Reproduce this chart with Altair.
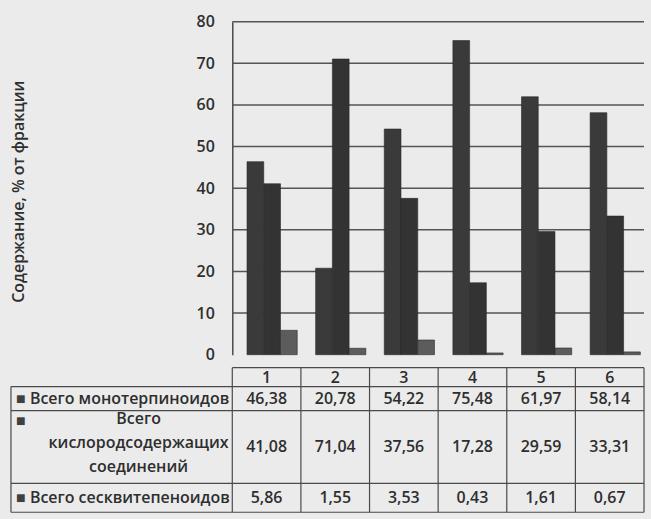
import altair as alt
import pandas as pd

cols = ["1", "2", "3", "4", "5", "6"]
series = ["Всего монотерпиноидов", "Всего кислородсодержащих соединений", "Всего сесквитепеноидов"]
series_lines = ["Всего монотерпиноидов", "Всего\nкислородсодержащих\nсоединений", "Всего сесквитепеноидов"]
mono = [46.38, 20.78, 54.22, 75.48, 61.97, 58.14]
oxy = [41.08, 71.04, 37.56, 17.28, 29.59, 33.31]
sesq = [5.86, 1.55, 3.53, 0.43, 1.61, 0.67]
y_ticks = [0, 10, 20, 30, 40, 50, 60, 70, 80]
y_title = "Содержание, % от фракции"

rows = []
for s, vals in zip(series, [mono, oxy, sesq]):
    for c, v in zip(cols, vals):
        rows.append({"series": s, "col": c, "value": v})
df = pd.DataFrame(rows)
hdr = pd.DataFrame({"col": cols})
one = pd.DataFrame({"k": [0]})
grid_df = pd.DataFrame({"value": y_ticks[1:]})

W, H = 413, 334
FONT = "Open Sans"
INK = "#2e2e2e"
LINE = "#4a4a4a"
FS = 16

xs = alt.Scale(domain=cols, paddingInner=0, paddingOuter=0)
xenc = alt.X("col:N", scale=xs, axis=None)
ys = alt.Scale(domain=[0, 80])
yaxis = alt.Axis(values=y_ticks, title=y_title, ticks=False, grid=False,
                 labelPadding=18, labelFont=FONT, labelFontSize=FS, labelFontWeight=600,
                 labelColor=INK, titleFont=FONT, titleFontSize=16, titleFontWeight=600,
                 titleColor=INK, titleAngle=270, titleX=-214, titleY=170,
                 titleAlign="center", titleBaseline="middle",
                 domainColor=LINE, domainWidth=1.5)

grid = alt.Chart(grid_df).mark_rule(color="#555555", strokeWidth=1.5).encode(
    y=alt.Y("value:Q", scale=ys, axis=yaxis), x=alt.value(0), x2=alt.value(W))

bars = alt.Chart(df).mark_bar(stroke="#2a2a2a", strokeWidth=0.6).encode(
    x=xenc,
    xOffset=alt.XOffset("series:N", sort=series,
                        scale=alt.Scale(paddingInner=0, paddingOuter=0.55, align=0.8)),
    y=alt.Y("value:Q", scale=ys, axis=yaxis),
    color=alt.Color("series:N", sort=series, legend=None,
                    scale=alt.Scale(domain=series, range=["#3a3a3a", "#333333", "#5c5c5c"])),
)

top = alt.layer(grid, bars).properties(width=W, height=H)

# data table below the chart
T0, R1, R2, R3, B = 0, 19, 43, 116, 145
LX = -222
table = []
table.append(alt.Chart(hdr).mark_rule(color=LINE, strokeWidth=1.2).encode(
    x=alt.X("col:N", scale=xs, axis=None, bandPosition=0), y=alt.value(T0), y2=alt.value(B)))
table.append(alt.Chart(one).mark_rule(color=LINE, strokeWidth=1.2).encode(
    x=alt.value(W), y=alt.value(T0), y2=alt.value(B)))
table.append(alt.Chart(one).mark_rule(color=LINE, strokeWidth=1.2).encode(
    x=alt.value(LX), y=alt.value(R1), y2=alt.value(B)))
table.append(alt.Chart(one).mark_rule(color=LINE, strokeWidth=1.2).encode(
    x=alt.value(0), x2=alt.value(W), y=alt.value(T0)))
for yy in [R1, R2, R3, B]:
    table.append(alt.Chart(one).mark_rule(color=LINE, strokeWidth=1.2).encode(
        x=alt.value(LX), x2=alt.value(W), y=alt.value(yy)))

table.append(alt.Chart(hdr).mark_text(font=FONT, fontSize=FS, fontWeight=600, color=INK).encode(
    x=xenc, text="col:N", y=alt.value((T0 + R1) / 2 + 1)))

centers = [(R1 + R2) / 2, (R2 + R3) / 2, (R3 + B) / 2]
for s, lab, cy in zip(series, series_lines, centers):
    sub = df[df.series == s].reset_index(drop=True)
    table.append(alt.Chart(sub).transform_calculate(
        txt="replace(format(datum.value, '.2f'), '.', ',')").mark_text(
        font=FONT, fontSize=FS, fontWeight=600, color=INK).encode(
        x=xenc, text="txt:N", y=alt.value(cy)))
    lab_df = pd.DataFrame({"lab": [lab]})
    multi = "\n" in lab
    table.append(alt.Chart(lab_df).mark_text(font=FONT, fontSize=FS, color="#404040", align="left",
                                             baseline="middle").encode(
        text=alt.value("■"), x=alt.value(LX + 5), y=alt.value(R2 + 11 if multi else cy)))
    if multi:
        table.append(alt.Chart(lab_df).mark_text(font=FONT, fontSize=FS, fontWeight=600, color=INK,
                                                 align="center", baseline="top", lineBreak="\n",
                                                 lineHeight=24).encode(
            text="lab:N", x=alt.value(-94), y=alt.value(R2 + 1)))
    else:
        table.append(alt.Chart(lab_df).mark_text(font=FONT, fontSize=FS, fontWeight=600, color=INK,
                                                 align="left", baseline="middle").encode(
            text="lab:N", x=alt.value(LX + 19), y=alt.value(cy)))

bottom = alt.layer(*table).properties(width=W, height=B)

chart = alt.vconcat(top, bottom, spacing=4).properties(
    padding={"left": 10, "top": 13, "right": 6, "bottom": 5},
    background="#ebebeb",
).configure_view(stroke=None)

chart.save("out.html", embed_options={"renderer": "svg", "actions": False})
